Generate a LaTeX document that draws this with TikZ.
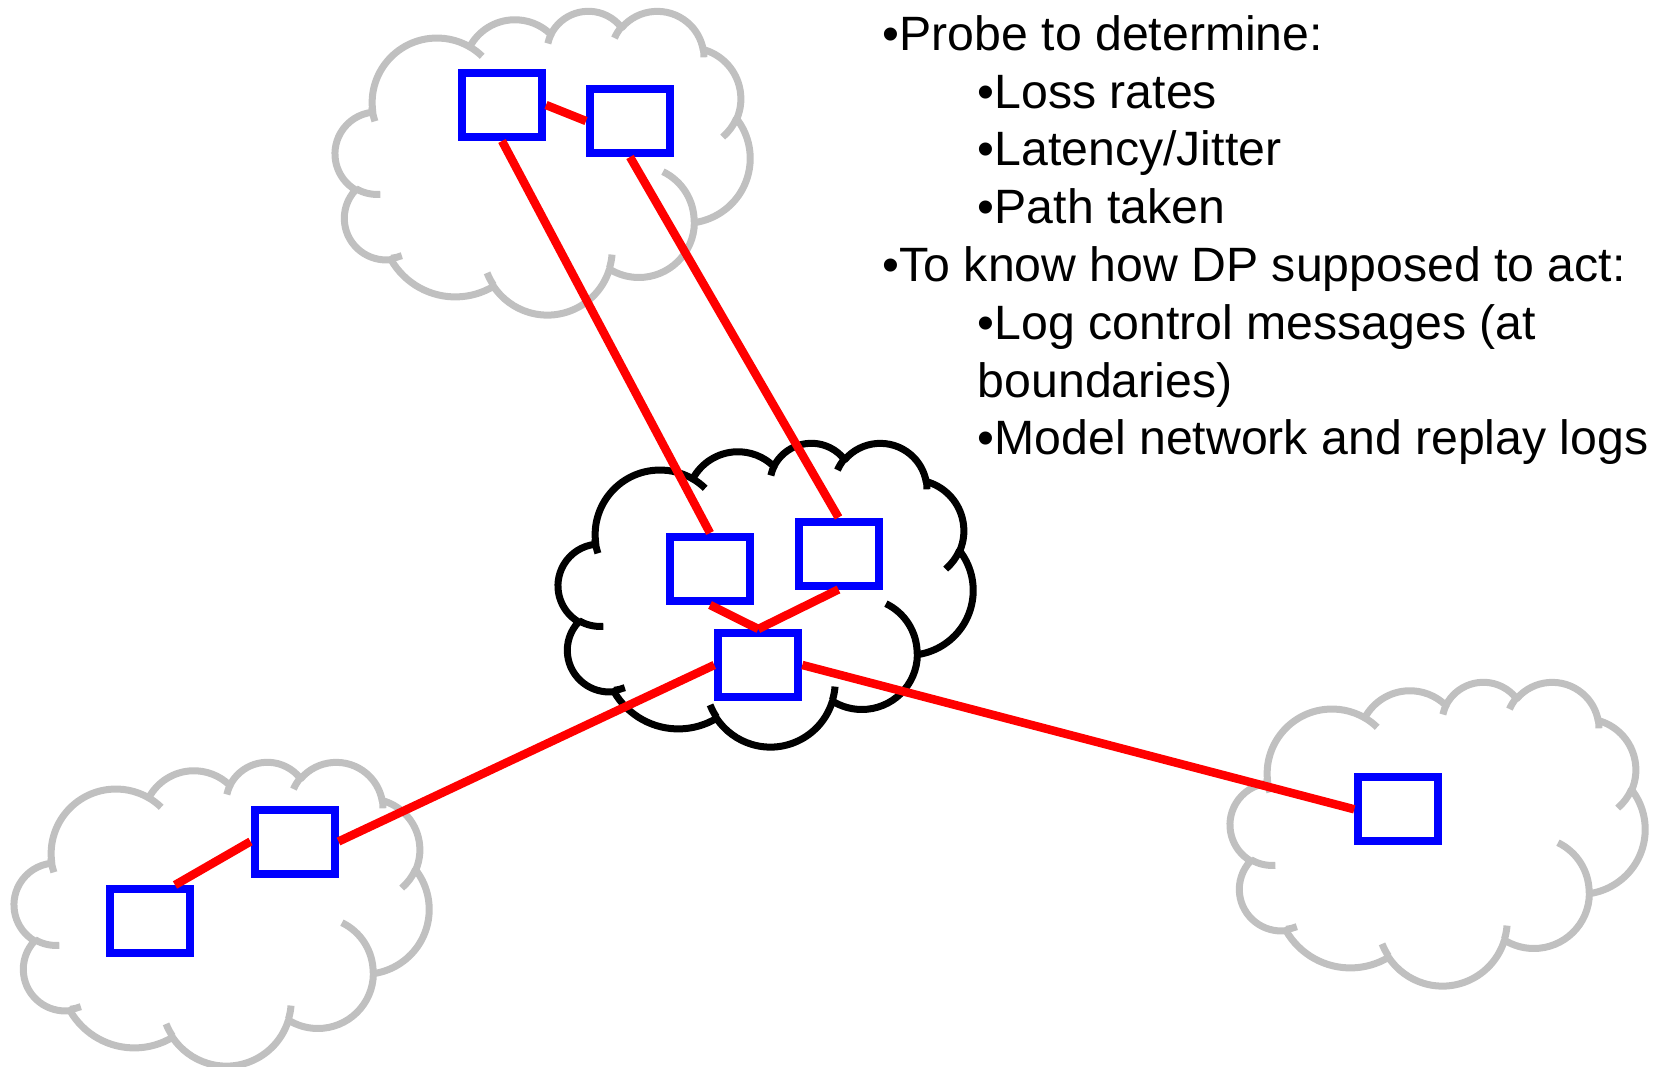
\documentclass[tikz,border=0pt]{standalone}
\usepackage{fontspec}
\setmainfont{Liberation Sans}
\definecolor{cloudgray}{RGB}{192,192,192}
\newcommand{\cldarc}[4]{arc[x radius=#1, y radius=#2,
  start angle={atan2(#1*sin(#3),#2*cos(#3))},
  delta angle={mod(atan2(#1*sin(#3+#4),#2*cos(#3+#4))-atan2(#1*sin(#3),#2*cos(#3))+720,360)}]}
\tikzset{
  pics/netcloud/.style={code={%
    \draw (39.00,143.70) \cldarc{67.53}{91.90}{-190.487}{123.781}
      \cldarc{53.33}{72.67}{-144.102}{89.945}
      \cldarc{43.65}{59.45}{-145.808}{99.723}
      \cldarc{48.57}{65.95}{-130.986}{117.242}
      \cldarc{53.33}{72.73}{-78.709}{109.027}
      \cldarc{67.75}{92.20}{-46.267}{130.269}
      \cldarc{57.85}{78.67}{0.625}{114.033}
      \cldarc{67.52}{92.15}{22.452}{115.173}
      \cldarc{77.20}{105.43}{66.243}{75.711}
      \cldarc{43.60}{59.18}{-274.942}{146.736}
      \cldarc{43.45}{59.45}{-246.829}{152.519} -- cycle;
    % inner arcs of the puffs
    \draw (46.93,261.77) \cldarc{43.45}{59.45}{86.742}{26.430}
      (69.28,348.99) \cldarc{43.60}{59.18}{73.610}{11.447}
      (164.78,390.90) \cldarc{67.52}{92.15}{137.624}{14.081}
      (288.27,347.51) \cldarc{67.52}{92.15}{6.453}{15.998}
      (341.29,229.54) \cldarc{57.85}{78.67}{-70.292}{70.917}
      (417.98,153.54) \cldarc{53.33}{72.73}{30.318}{27.752}
      (383.24,54.26) \cldarc{48.57}{65.95}{-13.744}{14.859}
      (290.78,39.52) \cldarc{48.57}{65.95}{-149.181}{18.195}
      (221.41,47.20) \cldarc{43.65}{59.45}{-163.494}{17.686}
      (140.00,51.92) \cldarc{67.53}{91.90}{-66.707}{12.319}
      (41.27,157.89) \cldarc{67.53}{91.90}{155.647}{16.786};
  }}
}

\begin{document}
\begin{tikzpicture}[x=1pt,y=-1pt,
    cloudline/.style={line width=7pt, line join=round, xscale=0.96, yscale=0.703},
    router/.style={draw=blue, fill=white, line width=8pt, inner sep=0pt,
      minimum width=80pt, minimum height=64pt},
    link/.style={red, line width=8.5pt},
    note/.style={anchor=base west, inner sep=0pt, font=\fontsize{48.2}{57}\selectfont}]
  \useasboundingbox (0,0) rectangle (1660,1067);
  % clouds
  \pic[cloudline, cloudgray] (topnet) at (335.3,10.3) {netcloud};
  \pic[cloudline, black] (corenet) at (558.3,442.3) {netcloud};
  \pic[cloudline, cloudgray] (leftnet) at (14.3,761.3) {netcloud};
  \pic[cloudline, cloudgray] (rightnet) at (1230.3,681.3) {netcloud};
  % routers
  \node[router] (A) at (502,105) {};
  \node[router] (B) at (630,121) {};
  \node[router] (C) at (710,569) {};
  \node[router] (D) at (838.5,553.5) {};
  \node[router] (E) at (758.3,665) {};
  \node[router] (F) at (150,921) {};
  \node[router] (G) at (294.5,841.5) {};
  \node[router] (H) at (1398.3,809.3) {};
  % links
  \draw[link] (A.east) -- (B.west);
  \draw[link] (A.south) -- (C.north);
  \draw[link] (B.south) -- (D.north);
  \draw[link] (C.south) -- (E.north);
  \draw[link] (D.south) -- (E.north);
  \draw[link] (E.west) -- (G.east);
  \draw[link] (E.east) -- (H.west);
  \draw[link] ([xshift=25pt]F.north) -- (G.west);
  % text
  \node[note] (probe) at (882.6,51) {•Probe to determine:};
  \node[note] (loss) at (977.6,109) {•Loss rates};
  \node[note] (latency) at (977.6,166) {•Latency/Jitter};
  \node[note] (taken) at (977.6,224) {•Path taken};
  \node[note] (know) at (882.6,282) {•To know how DP supposed to act:};
  \node[note] (logctl) at (977.6,339) {•Log control messages (at};
  \node[note] (bound) at (977.6,397) {boundaries)};
  \node[note] (model) at (977.6,454) {•Model network and replay logs};
\end{tikzpicture}
\end{document}
